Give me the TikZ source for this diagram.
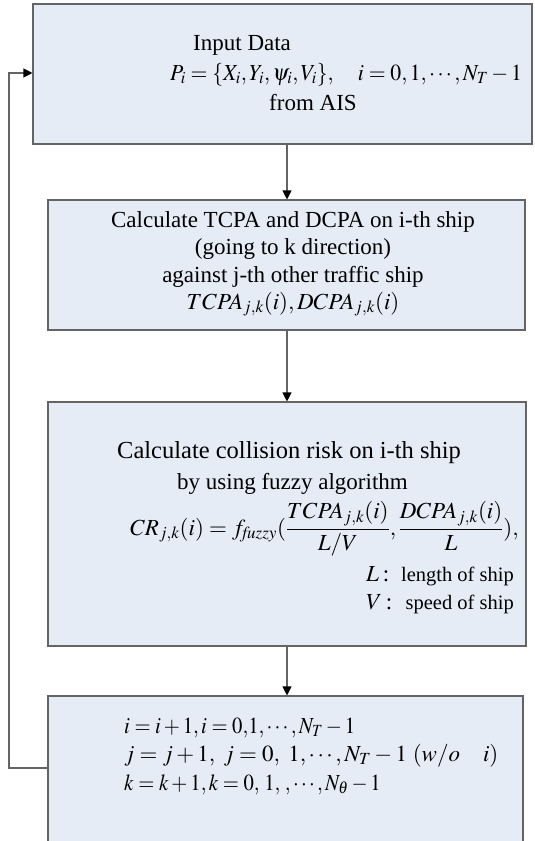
\documentclass[tikz,border=0pt]{standalone}
\usepackage{mathptmx}
\usepackage{fontspec}
\setmainfont{Liberation Serif}
\usetikzlibrary{arrows.meta}
\definecolor{boxfill}{RGB}{230,236,246}
\definecolor{boxline}{RGB}{100,100,100}
\tikzset{
  box/.style={draw=boxline, line width=1.1pt, fill=boxfill, rectangle, inner sep=0pt},
  txt/.style={inner sep=0pt, font=\fontsize{23}{27}\selectfont},
  bigtxt/.style={inner sep=0pt, font=\fontsize{24.5}{28}\selectfont},
  smalltxt/.style={inner sep=0pt, font=\fontsize{20.5}{24}\selectfont},
  flow/.style={draw=boxline, line width=1.1pt, -{Triangle[length=9pt,width=9pt,color=black]}}
}
\begin{document}
\begin{tikzpicture}[x=1pt,y=-1pt]
\useasboundingbox (0,0) rectangle (535,841);
% boxes
\node[box, minimum width=499pt, minimum height=140pt] (b1) at (282.5,74) {};
\node[box, minimum width=477pt, minimum height=130pt] (b2) at (286.5,265) {};
\node[box, minimum width=478pt, minimum height=244pt] (b3) at (287,524) {};
\node[box, minimum width=475pt, minimum height=160pt] (b4) at (285.5,776) {};
% box 1 text
\node[txt, anchor=base west] (t11) at (193,50) {Input Data};
\node[txt, anchor=base west] (t12) at (170,80) {\scalebox{0.945}[1]{$P_i=\{X_i,Y_i,\psi_i,V_i\},\quad i=0,1,\cdots,N_T-1$}};
\node[txt, anchor=base] (t13) at (313,110) {from AIS};
% box 2 text
\node[txt, anchor=base] (t21) at (293,227) {Calculate TCPA and DCPA on i-th ship};
\node[txt, anchor=base] (t22) at (293,254.5) {(going to k direction)};
\node[txt, anchor=base] (t23) at (293,282) {against j-th other traffic ship};
\node[txt, anchor=base] (t24) at (293,309) {$TCPA_{j,k}(i), DCPA_{j,k}(i)$};
% box 3 text
\node[bigtxt, anchor=base west] (t31) at (117,458) {Calculate collision risk on i-th ship};
\node[txt, anchor=base west] (t32) at (177,489) {by using fuzzy algorithm};
\node[txt, anchor=west] (t33) at (130,529) {$\displaystyle CR_{j,k}(i)=f_{\mathit{fuzzy}}(\frac{TCPA_{j,k}(i)}{L/V},\frac{DCPA_{j,k}(i)}{L}),$};
\node[txt, anchor=base west] (t34) at (366,581) {$L$\,:};
\node[smalltxt, anchor=base east] (t34b) at (514,581) {length of ship};
\node[txt, anchor=base west] (t35) at (366,609) {$V$\,:};
\node[smalltxt, anchor=base east] (t35b) at (514,609) {speed of ship};
% box 4 text
\node[txt, anchor=base west] (t41) at (124,733) {\scalebox{0.9}[1]{$i=i+1, i=0{,}1,\cdots,N_T-1$}};
\node[txt, anchor=base west] (t42) at (124,761) {$j=j+1,\ j=0,\ 1,\cdots,N_T-1\ (w/o\quad i)$};
\node[txt, anchor=base west] (t43) at (124,790) {\scalebox{0.9}[1]{$k=k+1, k=0,\,1,\,,\cdots,N_\theta-1$}};
% connectors
\coordinate (ax) at (287,0);
\coordinate (fbx) at (9,0);
\coordinate (fby) at (0,768);
\coordinate (iny) at (0,73);
\draw[flow] (b1.south -| ax) -- (b2.north -| ax);
\draw[flow] (b2.south -| ax) -- (b3.north -| ax);
\draw[flow] (b3.south -| ax) -- (b4.north -| ax);
\draw[flow] (b4.west |- fby) -| (fbx |- iny) -- (b1.west |- iny);
\end{tikzpicture}
\end{document}
